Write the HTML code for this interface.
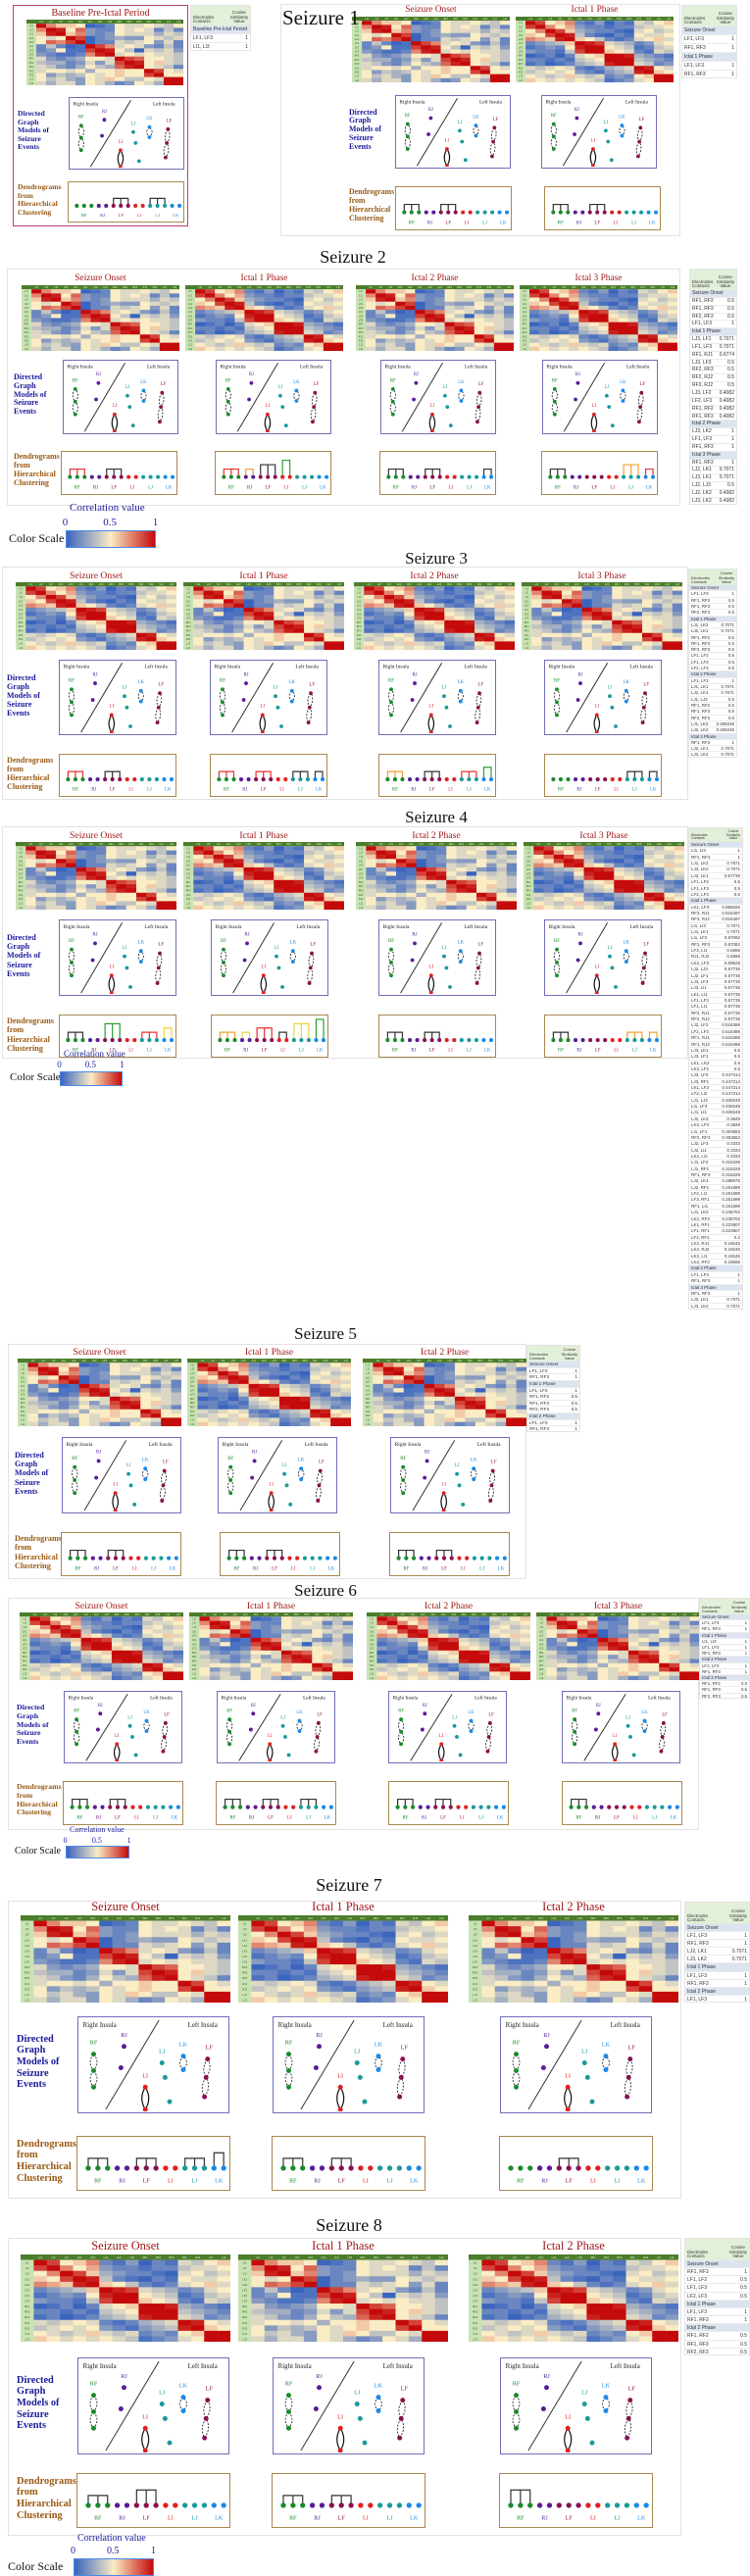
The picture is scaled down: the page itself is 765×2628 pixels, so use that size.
<!DOCTYPE html>
<html><head><meta charset="utf-8">
<style>
html,body{margin:0;padding:0;background:#fff;}
body{width:765px;height:2628px;position:relative;overflow:hidden;font-family:"Liberation Serif",serif;}
.abs{position:absolute;box-sizing:border-box;}
.panel{border:1px solid #e2e2e2;background:#fff;}
.gbox{border:1.5px solid #6f6fb8;background:#fff;}
.dbox{border:1.5px solid #a98850;background:#fff;}
.lbl-g{color:#1a1a9a;font-weight:bold;line-height:1.12;}
.lbl-d{color:#9a5a14;font-weight:bold;line-height:1.12;}
.ptitle{color:#a01818;text-align:center;white-space:nowrap;}
.stitle{color:#111;white-space:nowrap;}
.tbl{font-family:"Liberation Sans",sans-serif;background:#fff;border:1px solid #e4e4e4;overflow:hidden;}
.tbl .hd{background:#e2efd9;color:#333;position:relative;overflow:hidden;}
.tbl .r{display:flex;justify-content:space-between;border-bottom:1px solid #ececec;padding:0 2px;color:#333;overflow:hidden;white-space:nowrap;box-sizing:border-box;}
.tbl .sec{background:#dce3f1;}
</style></head>
<body>
<script>
// ---------------- data ----------------
const matrixA = [
[1,.7,.6,.6,.55,.2,.25,.3,.55,.5,.5,.55,.5,.45,.55],
[.7,1,.85,.55,.75,.35,.3,.3,.55,.5,.55,.5,.3,.45,.3],
[.6,.85,1,.6,.7,.35,.3,.35,.55,.5,.5,.5,.4,.5,.45],
[.55,.5,.55,1,.8,.1,.3,.35,.4,.35,.35,.55,.5,.45,.5],
[.55,.75,.7,.8,1,.2,.3,.3,.5,.45,.5,.55,.35,.5,.3],
[.3,.45,.3,.2,.25,1,.8,.7,.5,.55,.5,.35,.3,.45,.3],
[.3,.35,.55,.25,.25,.8,1,.85,.55,.45,.2,.5,.45,.5,.35],
[.35,.3,.25,.25,.3,.7,.85,1,.5,.55,.5,.55,.5,.5,.45],
[.5,.35,.3,.35,.4,.55,.55,.5,1,.8,.75,.55,.55,.5,.45],
[.45,.4,.4,.3,.35,.5,.35,.5,.8,1,.85,.55,.6,.5,.45],
[.5,.45,.35,.3,.4,.55,.45,.4,.75,.85,1,.55,.5,.45,.3],
[.5,.55,.55,.5,.55,.4,.55,.55,.6,.55,.55,1,.8,.55,.5],
[.55,.35,.45,.4,.45,.55,.5,.55,.6,.55,.55,.8,1,.55,.55],
[.55,.45,.5,.4,.35,.55,.5,.6,.55,.45,.45,.55,.5,1,.9],
[.5,.4,.5,.5,.35,.55,.5,.4,.3,.35,.55,.5,.4,.9,1]];
const matrixB = [
[1,.8,.55,.6,.7,.3,.25,.35,.2,.3,.25,.5,.45,.55,.6],
[.8,1,.7,.55,.65,.35,.3,.3,.25,.3,.3,.45,.5,.5,.55],
[.55,.7,1,.8,.6,.4,.35,.3,.3,.25,.2,.5,.55,.45,.5],
[.6,.55,.8,1,.85,.45,.3,.25,.2,.3,.25,.55,.5,.5,.55],
[.7,.65,.6,.85,1,.6,.55,.45,.3,.25,.3,.5,.55,.6,.5],
[.3,.35,.4,.45,.6,1,.85,.8,.5,.45,.4,.3,.35,.5,.55],
[.25,.3,.35,.3,.55,.85,1,.9,.55,.5,.45,.25,.3,.45,.5],
[.35,.3,.3,.25,.45,.8,.9,1,.6,.55,.5,.3,.25,.5,.45],
[.2,.25,.3,.2,.3,.5,.55,.6,1,.9,.85,.4,.35,.3,.25],
[.3,.3,.25,.3,.25,.45,.5,.55,.9,1,.9,.45,.4,.35,.3],
[.25,.3,.2,.25,.3,.4,.45,.5,.85,.9,1,.5,.45,.3,.35],
[.5,.45,.5,.55,.5,.3,.25,.3,.4,.45,.5,1,.85,.55,.5],
[.45,.5,.55,.5,.55,.35,.3,.25,.35,.4,.45,.85,1,.6,.55],
[.55,.5,.45,.5,.6,.5,.45,.5,.3,.35,.3,.55,.6,1,.9],
[.6,.55,.5,.55,.5,.55,.5,.45,.25,.3,.35,.5,.55,.9,1]];
const channelLabels = ["LI1","LI2","LI3","LK1","LK2","LF1","LF2","LF3","RF1","RF2","RF3","RJ1","RJ2","LJ1","LJ2"];
const dendroGroups = ["RF","RJ","LF","LI","LJ","LK"];
const dendroGroupSizes = [3,2,3,2,3,2];
const groupColors = {RF:"#1a8a2a",RJ:"#5a1a9a",LF:"#8a1050",LI:"#e02020",LJ:"#1a9a9a",LK:"#1a8ae8"};

const tblBaseline = [["#Baseline Pre-Ictal Period",""],["LF1, LF3","1"],["LI1, LI3","1"]];
const tblS1 = [["#Seizure Onset",""],["LF1, LF3","1"],["RF1, RF3","1"],["#Ictal 1 Phase",""],["LF1, LF3","1"],["RF1, RF3","1"]];
const tblS2 = [["#Seizure Onset",""],["RF1, RF2","0.5"],["RF1, RF3","0.5"],["RF2, RF3","0.5"],["LF1, LF3","1"],["#Ictal 1 Phase",""],["LJ3, LF1","0.7071"],["LF1, LF3","0.7071"],["RF1, RJ1","0.6774"],["LJ3, LF3","0.5"],["RF2, RF3","0.5"],["RF2, RJ2","0.5"],["RF3, RJ2","0.5"],["LJ3, LF2","0.4082"],["LF2, LF3","0.4082"],["RF1, RF2","0.4082"],["RF1, RF3","0.4082"],["#Ictal 2 Phase",""],["LJ3, LK2","1"],["LF1, LF3","1"],["RF1, RF3","1"],["#Ictal 3 Phase",""],["RF1, RF3","1"],["LJ2, LK1","0.7071"],["LJ3, LK1","0.7071"],["LJ2, LJ3","0.5"],["LJ2, LK2","0.4082"],["LJ3, LK2","0.4082"]];
const tblS3 = [["#Seizure Onset",""],["LF1, LF3","1"],["RF1, RF2","0.5"],["RF1, RF3","0.5"],["RF2, RF3","0.5"],["#Ictal 1 Phase",""],["LJ1, LK2","0.7071"],["LJ2, LK1","0.7071"],["RF1, RF2","0.5"],["RF1, RF3","0.5"],["RF2, RF3","0.5"],["LF1, LF2","0.5"],["LF1, LF3","0.5"],["LF2, LF3","0.5"],["#Ictal 2 Phase",""],["LF1, LF3","1"],["LJ1, LK1","0.7071"],["LJ2, LK1","0.7071"],["LJ1, LJ2","0.5"],["RF1, RF2","0.5"],["RF1, RF3","0.5"],["RF2, RF3","0.5"],["LJ1, LK2","0.408248"],["LJ2, LK2","0.408248"],["#Ictal 3 Phase",""],["RF1, RF3","1"],["LJ2, LK1","0.7071"],["LJ3, LK2","0.7071"]];
const tblS4 = [["#Seizure Onset",""],["LI1, LI3","1"],["RF1, RF3","1"],["LJ1, LK2","0.7071"],["LJ3, LK2","0.7071"],["LJ2, LK1","0.57735"],["LF1, LF2","0.5"],["LF1, LF3","0.5"],["LF2, LF3","0.5"],["#Ictal 1 Phase",""],["LK1, LF3","0.866025"],["RF3, RJ1","0.816497"],["RF3, RJ2","0.816497"],["LI1, LI3","0.7071"],["LJ1, LK1","0.7071"],["LI1, LF2","0.67082"],["RF1, RF2","0.67082"],["LF3, LI1","0.6666"],["RJ1, RJ2","0.6666"],["LK2, LF2","0.59628"],["LJ2, LJ3","0.57735"],["LJ2, LF1","0.57735"],["LJ3, LF3","0.57735"],["LJ3, LI1","0.57735"],["LK1, LI1","0.57735"],["LF1, LF3","0.57735"],["LF1, LI1","0.57735"],["RF2, RJ1","0.57735"],["RF2, RJ2","0.57735"],["LJ2, LF2","0.516398"],["LF2, LF3","0.516398"],["RF1, RJ1","0.516398"],["RF1, RJ2","0.516398"],["LJ3, LK1","0.5"],["LJ3, LF1","0.5"],["LK1, LK2","0.5"],["LK2, LF1","0.5"],["LJ3, LF2","0.447214"],["LJ3, RF1","0.447214"],["LK1, LF2","0.447214"],["LF2, LI2","0.447214"],["LJ1, LJ2","0.408248"],["LI1, LF3","0.408248"],["LJ1, LI1","0.408248"],["LJ2, LK2","0.3849"],["LK2, LF3","0.3849"],["LI1, LF1","0.353553"],["RF2, RF3","0.353553"],["LJ2, LF3","0.3333"],["LJ2, LI1","0.3333"],["LK2, LI2","0.3333"],["LJ1, LF2","0.316228"],["LJ1, RF1","0.316228"],["RF1, RF3","0.316228"],["LJ2, LK1","0.288675"],["LJ2, RF1","0.251699"],["LF2, LI1","0.251699"],["LF3, RF1","0.251699"],["RF1, LI1","0.251699"],["LJ1, LK2","0.235702"],["LK2, RF3","0.235702"],["LK1, RF1","0.223607"],["LF1, RF1","0.223607"],["LF2, RF1","0.2"],["LK2, RJ1","0.19245"],["LK2, RJ2","0.19245"],["LK2, LI1","0.19245"],["LK2, RF2","0.16666"],["#Ictal 2 Phase",""],["LF1, LF3","1"],["RF1, RF3","1"],["#Ictal 3 Phase",""],["RF1, RF3","1"],["LJ2, LK1","0.7071"],["LJ3, LK2","0.7071"]];
const tblS5 = [["#Seizure Onset",""],["LF1, LF3","1"],["RF1, RF3","1"],["#Ictal 1 Phase",""],["LF1, LF3","1"],["RF1, RF2","0.5"],["RF1, RF3","0.5"],["RF2, RF3","0.5"],["#Ictal 2 Phase",""],["LF1, LF3","1"],["RF1, RF3","1"]];
const tblS6 = [["#Seizure Onset",""],["LF1, LF3","1"],["RF1, RF3","1"],["#Ictal 1 Phase",""],["LI1, LI3","1"],["LF1, LF3","1"],["RF1, RF3","1"],["#Ictal 2 Phase",""],["LF1, LF3","1"],["RF1, RF3","1"],["#Ictal 3 Phase",""],["RF1, RF2","0.5"],["RF1, RF3","0.5"],["RF2, RF3","0.5"]];
const tblS7 = [["#Seizure Onset",""],["LF1, LF3","1"],["RF1, RF3","1"],["LJ2, LK1","0.7071"],["LJ3, LK2","0.7071"],["#Ictal 1 Phase",""],["LF1, LF3","1"],["RF1, RF3","1"],["#Ictal 2 Phase",""],["LF1, LF3","1"]];
const tblS8 = [["#Seizure Onset",""],["RF1, RF3","1"],["LF1, LF2","0.5"],["LF1, LF3","0.5"],["LF2, LF3","0.5"],["#Ictal 1 Phase",""],["LF1, LF3","1"],["RF1, RF3","1"],["#Ictal 2 Phase",""],["RF1, RF2","0.5"],["RF1, RF3","0.5"],["RF2, RF3","0.5"]];

const colorScaleTicks = ["0","0.5","1"];
const P4 = ["Seizure Onset","Ictal 1 Phase","Ictal 2 Phase","Ictal 3 Phase"];

// ---------------- helpers ----------------
const NS = "http://www.w3.org/2000/svg";
function div(cls, x, y, w, h, name, inter){
  const d = document.createElement('div');
  d.className = 'abs ' + (cls||'');
  d.style.left = x+'px'; d.style.top = y+'px';
  if (w!=null) d.style.width = w+'px';
  if (h!=null) d.style.height = h+'px';
  
  
  document.body.appendChild(d);
  return d;
}
function svgEl(tag, attrs, parent){
  const e = document.createElementNS(NS, tag);
  for (const k in attrs) e.setAttribute(k, attrs[k]);
  parent.appendChild(e);
  return e;
}
function lerp(a,b,t){return Math.round(a+(b-a)*t);}
function corrColor(v0){
  let v = 0.5 + (v0-0.55)*1.5;
  v = Math.max(0, Math.min(1, v));
  const blue=[58,100,190], cream=[250,236,196], red=[196,10,10];
  let c;
  if (v<0.5){const t=v/0.5;c=[0,1,2].map(i=>lerp(blue[i],cream[i],t));}
  else {const t=(v-0.5)/0.5;c=[0,1,2].map(i=>lerp(cream[i],red[i],t));}
  return 'rgb('+c.join(',')+')';
}
function heatmap(x,y,w,h,matrix){
  const d = div('',x,y,w,h,'correlation-heatmap',false);
  const s = svgEl('svg',{width:w,height:h},d);
  const n = matrix.length, cw = w/(n+1), ch = h/(n+1);
  const hdr = svgEl('rect',{x:0,y:0,width:w,height:ch,fill:'#4b7d2b'},s);
  
  const col = svgEl('rect',{x:0,y:ch,width:cw,height:h-ch,fill:'#c9e2b3'},s);
  
  const fs = Math.max(2.5, ch*0.5);
  channelLabels.forEach((lb,i)=>{
    const t1 = svgEl('text',{x:cw*(i+1.5),y:ch*0.72,'font-size':fs,'text-anchor':'middle',fill:'#e8f5d8','font-family':'Liberation Sans'},s);
    t1.textContent = lb;
    const t2 = svgEl('text',{x:cw*0.5,y:ch*(i+1.72),'font-size':fs,'text-anchor':'middle',fill:'#2d5a18','font-family':'Liberation Sans'},s);
    t2.textContent = lb;
  });
  for (let r=0;r<n;r++) for (let c=0;c<n;c++){
    const cell = svgEl('rect',{x:cw*(c+1),y:ch*(r+1),width:cw+0.3,height:ch+0.3,fill:corrColor(matrix[r][c])},s);
    
  }
}
const nodes = {
  RF:[[.1,.38],[.1,.55],[.1,.72]], RJ:[[.3,.3],[.28,.52]], LI:[[.44,.72],[.44,.95]],
  LJ:[[.55,.47],[.57,.62],[.6,.87]], LK:[[.69,.4],[.69,.54]], LF:[[.85,.43],[.84,.62],[.83,.82]]
};
const nodeLabelPos = {RF:[.1,.28],RJ:[.3,.2],LI:[.44,.62],LJ:[.55,.37],LK:[.69,.3],LF:[.86,.33]};
function graphBox(x,y,w,h){
  const d = div('gbox',x,y,w,h,'directed-graph-panel',false);
  const s = svgEl('svg',{width:w-3,height:h-3,style:'position:absolute;left:0;top:0'},d);
  const fs = Math.max(4,h*0.07);
  const t1 = svgEl('text',{x:w*0.03,y:h*0.1,'font-size':fs,fill:'#222','font-family':'Liberation Serif'},s); t1.textContent='Right Insula';
  const t2 = svgEl('text',{x:w*0.72,y:h*0.1,'font-size':fs,fill:'#222','font-family':'Liberation Serif'},s); t2.textContent='Left Insula';
  svgEl('line',{x1:w*0.18,y1:h*0.95,x2:w*0.53,y2:h*0.03,stroke:'#333','stroke-width':1},s);
  const r = Math.max(1.6,w*0.016);
  for (const g in nodes){
    const pts = nodes[g];
    if (g==='RF'||g==='LF'||g==='LI'||g==='LK'){
      for (let i=0;i<pts.length-1;i++){
        const [ax,ay]=pts[i],[bx,by]=pts[i+1];
        const ox = w*0.045;
        const dash = g==='LI' ? '' : '2,1.5';
        const p = `M${ax*w},${ay*h} Q${ax*w-ox},${(ay+by)/2*h} ${bx*w},${by*h} Q${bx*w+ox},${(ay+by)/2*h} ${ax*w},${ay*h}`;
        const path = svgEl('path',{d:p,fill:'none',stroke:'#111','stroke-width':g==='LI'?1.2:0.8,'stroke-dasharray':dash},s);
        
      }
    }
    pts.forEach(([px,py])=>{
      const c = svgEl('circle',{cx:px*w,cy:py*h,r:r,fill:groupColors[g]},s);
      
    });
    const lp = nodeLabelPos[g];
    const lt = svgEl('text',{x:lp[0]*w,y:lp[1]*h,'font-size':fs*0.9,fill:groupColors[g],'text-anchor':'middle','font-family':'Liberation Serif'},s);
    lt.textContent = g;
  }
}
function dendroBox(x,y,w,h,brackets){
  const d = div('dbox',x,y,w,h,'dendrogram-panel',false);
  const s = svgEl('svg',{width:w-3,height:h-3,style:'position:absolute;left:0;top:0'},d);
  const total = dendroGroupSizes.reduce((a,b)=>a+b,0);
  const x0 = w*0.07, x1 = w*0.95, cy = h*0.57, r = Math.max(1.6,w*0.017);
  const xs = i => x0 + (x1-x0)*i/(total-1);
  let idx = 0;
  const grpIdx = {};
  dendroGroups.forEach((g,gi)=>{
    const start = idx;
    grpIdx[g] = [];
    for (let k=0;k<dendroGroupSizes[gi];k++){ grpIdx[g].push(idx); idx++; }
    const mid = (xs(start)+xs(idx-1))/2;
    const t = svgEl('text',{x:mid,y:h*0.83,'font-size':Math.max(3.5,h*0.11),fill:groupColors[g],'text-anchor':'middle','font-family':'Liberation Serif'},s);
    t.textContent = g;
  });
  (brackets||[]).forEach(([g,color,lvl])=>{
    const ids = grpIdx[g];
    const top = cy - h*(0.18 + 0.1*(lvl||0));
    const pts = ids.map(i=>xs(i));
    let p = `M${pts[0]},${cy} L${pts[0]},${top} L${pts[pts.length-1]},${top} L${pts[pts.length-1]},${cy}`;
    pts.slice(1,-1).forEach(px=>{p+=` M${px},${top} L${px},${cy}`;});
    const path = svgEl('path',{d:p,fill:'none',stroke:color,'stroke-width':1.2},s);
    
  });
  idx = 0;
  dendroGroups.forEach((g,gi)=>{
    for (let k=0;k<dendroGroupSizes[gi];k++){
      const c = svgEl('circle',{cx:xs(idx),cy:cy,r:r,fill:groupColors[g]},s);
      
      idx++;
    }
  });
}
function table(x,y,w,h,rows,hdrH){
  const d = div('tbl',x,y,w,h,'cosine-similarity-table',false);
  const rh = (h-hdrH)/rows.length;
  const fs = Math.max(3, Math.min(5, rh*0.7));
  const hfs = Math.min(4.5, hdrH/4);
  const hd = document.createElement('div'); hd.className='hd';
  hd.style.height = hdrH+'px'; hd.style.fontSize = hfs+'px';
  
  
  hd.innerHTML = `<span style="position:absolute;left:2px;bottom:1px;line-height:1.05">Electrodes<br>Contacts</span><span style="position:absolute;right:2px;bottom:1px;text-align:center;line-height:1.05">Cosine<br>Similarity<br>Value</span>`;
  d.appendChild(hd);
  rows.forEach(([a,b])=>{
    const r = document.createElement('div');
    r.className = 'r' + (a[0]==='#' ? ' sec' : '');
    r.style.height = rh+'px'; r.style.lineHeight = rh+'px'; r.style.fontSize = fs+'px';
    
    
    r.innerHTML = `<span>${a.replace('#','')}</span><span>${b}</span>`;
    d.appendChild(r);
  });
}
function text(cls,x,y,w,txt,fs,name,align){
  const d = div(cls,x,y,w,null,name,false);
  d.style.fontSize = fs+'px';
  if (align) d.style.textAlign = align;
  d.innerHTML = txt;
  return d;
}
function colorScale(cx,cy,bw,bh,corrFs,labelFs,lblX){
  text('',cx+4,cy-corrFs*2.6,bw+20,'Correlation value',corrFs,'color-scale-title').style.color='#1a1a9a';
  colorScaleTicks.forEach((t,i)=>{
    const tx = cx + bw*i/(colorScaleTicks.length-1) - corrFs*0.3 - (i===1?corrFs*0.4:0);
    const e = text('',tx,cy-corrFs*1.3,30,t,corrFs,'color-scale-tick');
    e.style.color='#1a1a9a';
  });
  const bar = div('',cx,cy,bw,bh,'color-scale-bar',false);
  bar.style.background = 'linear-gradient(to right,#3a64be,#faecc4 50%,#c40a0a)';
  bar.style.border = '1px solid #4a8ae8';
  text('',lblX,cy+bh/2-labelFs*0.65,80,'Color Scale',labelFs,'color-scale-label').style.color='#111';
}
function labels(lx,gy,gh,dy,dh,fs){
  text('lbl-g',lx,gy+gh*0.18,60,'Directed<br>Graph<br>Models of<br>Seizure<br>Events',fs,'directed-graph-row-label');
  text('lbl-d',lx,dy+dh*0.05,70,'Dendrograms<br>from<br>Hierarchical<br>Clustering',fs,'dendrogram-row-label');
}
function seizure(cfg){
  div('panel',cfg.panel[0],cfg.panel[1],cfg.panel[2],cfg.panel[3],'seizure-panel',false);
  if (cfg.title) text('stitle',cfg.tx-100,cfg.ty-cfg.tfs*0.6,200,cfg.title,cfg.tfs,'seizure-title','center');
  cfg.hmX.forEach((hx,i)=>{
    const pf = cfg.hmH*0.14;
    text('ptitle',hx,cfg.hmY-pf*1.25,cfg.hmW,cfg.phases[i],pf,'phase-title','center');
    heatmap(hx,cfg.hmY,cfg.hmW,cfg.hmH,cfg.mats[i]);
  });
  cfg.gX.forEach(gx=>graphBox(gx,cfg.gY,cfg.gW,cfg.gH));
  cfg.dX.forEach((dx,i)=>dendroBox(dx,cfg.dY,cfg.dW,cfg.dH,cfg.br[i]));
  labels(cfg.lx,cfg.gY,cfg.gH,cfg.dY,cfg.dH,cfg.gH*0.105);
  table(cfg.tb[0],cfg.tb[1],cfg.tb[2],cfg.tb[3],cfg.rows,cfg.tb[4]);
}
const K='#333', R='#e83030', G='#2aa030', O='#f0a030', Y='#e8d830';
// ---------------- baseline ----------------
const bb = div('',13,5,179,226,'baseline-panel',false); bb.style.border='1.5px solid #b8407c';
text('ptitle',13,8,179,'Baseline Pre-Ictal Period',10,'baseline-title','center');
heatmap(27,20,160,67,matrixA);
graphBox(70,99,118,74);
dendroBox(69,185,119,42,[["LF",K],["LJ",K]]);
labels(18,99,74,185,42,7.6);
table(194,5,62,47,tblBaseline,20);
// ---------------- seizures ----------------
seizure({title:'',tx:0,ty:0,tfs:22,panel:[286,4,408,237],hmY:17,hmH:67,hmW:161,hmX:[359,526],phases:P4,mats:[matrixA,matrixB],
  gY:97,gH:75,gW:118,gX:[403,552],dY:190,dH:45,dW:119,dX:[403,555],br:[[["RF",K],["LF",K]],[["RF",K],["LF",K]]],lx:356,tb:[695,5,57,75,21],rows:tblS1});
text('stitle',288,6,70,'Seizure 1',21,'seizure-title');
seizure({title:'Seizure 2',tx:360,ty:263,tfs:18,panel:[7,274,687,242],hmY:291,hmH:67,hmW:161,hmX:[22,189,363,530],phases:P4,mats:[matrixA,matrixB,matrixA,matrixB],
  gY:367,gH:76,gW:118,gX:[64,220,388,553],dY:460,dH:45,dW:119,dX:[62,219,387,552],
  br:[[["RF",R],["LF",K]],[["RF",R],["RJ",O],["LF",K,1],["LI",G,2]],[["RF",K],["LF",K],["LK",K]],[["RF",K],["LK",R],["LJ",O,1]]],lx:14,tb:[703,274,49,241,21],rows:tblS2});
colorScale(67,541,92,18,11,12,9);
seizure({title:'Seizure 3',tx:445,ty:570,tfs:17,panel:[2,578,700,238],hmY:594,hmH:69,hmW:164,hmX:[16,187,361,532],phases:P4,mats:[matrixB,matrixA,matrixB,matrixA],
  gY:673,gH:77,gW:120,gX:[60,214,386,555],dY:769,dH:44,dW:120,dX:[60,214,386,555],
  br:[[["RF",R],["LF",K]],[["RF",R],["LF",R],["LJ",K],["LK",K]],[["RF",O],["LF",K],["LJ",R],["LK",G,1]],[["LJ",K],["LK",K]]],lx:7,tb:[702,580,50,193,16],rows:tblS3});
seizure({title:'Seizure 4',tx:445,ty:834,tfs:17,panel:[2,843,700,237],hmY:859,hmH:69,hmW:164,hmX:[16,187,363,534],phases:P4,mats:[matrixA,matrixB,matrixA,matrixB],
  gY:938,gH:78,gW:120,gX:[60,215,386,555],dY:1035,dH:44,dW:120,dX:[60,215,386,555],
  br:[[["RF",K],["LF",G,2],["LJ",R],["LK",Y,1]],[["RF",O],["RJ",Y],["LF",R,1],["LI",K],["LJ",Y,2],["LK",G,3]],[["RF",K],["LF",K]],[["RF",K],["LK",O],["LJ",O]]],lx:7,tb:[702,844,56,492,14],rows:tblS4});
colorScale(61,1093,64,15,9,11,10);
seizure({title:'Seizure 5',tx:332,ty:1361,tfs:17,panel:[8,1371,529,240],hmY:1386,hmH:69,hmW:167,hmX:[18,191,370],phases:P4,mats:[matrixA,matrixB,matrixA],
  gY:1466,gH:78,gW:122,gX:[63,222,398],dY:1563,dH:45,dW:123,dX:[62,224,397],
  br:[[["RF",K],["LF",K]],[["RF",K],["LF",K]],[["RF",K],["LF",K]]],lx:15,tb:[537,1372,55,89,16],rows:tblS5});
seizure({title:'Seizure 6',tx:332,ty:1623,tfs:17,panel:[8,1630,705,237],hmY:1645,hmH:69,hmW:167,hmX:[20,193,374,547],phases:P4,mats:[matrixB,matrixA,matrixB,matrixA],
  gY:1725,gH:74,gW:121,gX:[65,221,396,573],dY:1817,dH:45,dW:123,dX:[64,220,396,573],
  br:[[["RF",K],["LF",K]],[["RF",K],["LF",K],["LJ",K]],[["RF",K],["LF",K]],[["RF",K]]],lx:17,tb:[713,1630,52,103,16],rows:tblS6});
colorScale(67,1883,65,13,8,10,15);
seizure({title:'Seizure 7',tx:356,ty:1924,tfs:18,panel:[8,1939,687,304],hmY:1954,hmH:89,hmW:214,hmX:[21,243,478],phases:P4,mats:[matrixA,matrixB,matrixA],
  gY:2057,gH:99,gW:155,gX:[79,278,510],dY:2179,dH:56,dW:157,dX:[78,277,509],
  br:[[["RF",K],["LF",K],["LJ",K],["LK",K,1]],[["RF",K],["LF",K]],[["LF",K]]],lx:17,tb:[698,1940,67,103,22],rows:tblS7});
seizure({title:'Seizure 8',tx:356,ty:2271,tfs:18,panel:[8,2283,687,304],hmY:2300,hmH:89,hmW:214,hmX:[21,243,478],phases:P4,mats:[matrixB,matrixA,matrixB],
  gY:2405,gH:99,gW:155,gX:[79,278,510],dY:2523,dH:56,dW:157,dX:[78,277,509],
  br:[[["RF",K],["LF",K,1]],[["RF",K],["LF",K]],[["RF",K,1]]],lx:17,tb:[698,2283,67,120,22],rows:tblS8});
colorScale(75,2610,82,18,10,12,8);
</script>
</body></html>
